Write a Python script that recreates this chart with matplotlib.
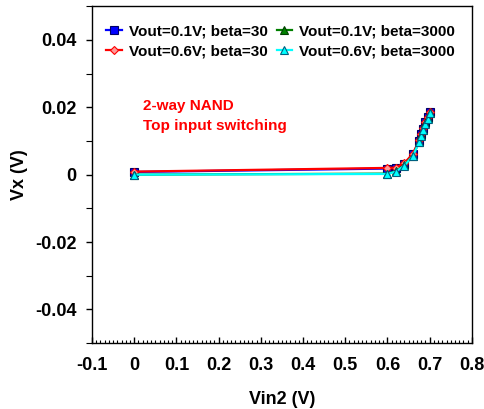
import matplotlib

matplotlib.use("Agg")
import matplotlib.pyplot as plt
from matplotlib.ticker import MultipleLocator

plt.rcParams["font.family"] = ["Liberation Sans", "DejaVu Sans"]
plt.rcParams["font.weight"] = "bold"

# Vin2 sweep points (V)
vin2 = [0.0, 0.6, 0.62, 0.64, 0.66, 0.675, 0.68, 0.685, 0.69, 0.695, 0.7]

# Vx (V) per case
vx_01_b30 = [0.0008, 0.0018, 0.0019, 0.0032, 0.0060, 0.0100, 0.0120, 0.0135, 0.0155, 0.0170, 0.0185]
vx_06_b30 = [0.0009, 0.0020, 0.0021, 0.0034, 0.0062, 0.0102, 0.0121, 0.0137, 0.0156, 0.0171, 0.0187]
vx_01_b3000 = [0.0000, 0.0003, 0.0010, 0.0028, 0.0056, 0.0097, 0.0117, 0.0132, 0.0152, 0.0167, 0.0183]
vx_06_b3000 = [0.0000, 0.0002, 0.0009, 0.0027, 0.0055, 0.0096, 0.0116, 0.0131, 0.0151, 0.0166, 0.0182]

SERIES = [
    (vx_01_b30, "Vout=0.1V; beta=30", "#0000ff", "s", "#000066"),
    (vx_06_b30, "Vout=0.6V; beta=30", "#ff0000", "D", "#ff0000"),
    (vx_01_b3000, "Vout=0.1V; beta=3000", "#008000", "^", "#004000"),
    (vx_06_b3000, "Vout=0.6V; beta=3000", "#00ffff", "^", "#006080"),
]

fig = plt.figure(figsize=(4.84, 4.09), dpi=100)
ax = fig.add_axes([0.190, 0.161, 0.785, 0.824])

for y, label, color, marker, edge in SERIES:
    face = "#ff9999" if marker == "D" else color
    ms = 4.5 if marker == "D" else 5.5
    ax.plot(vin2, y, color=color, lw=1.6, marker=marker, ms=ms,
            mfc=face, mec=edge, mew=0.8, label=label)

ax.set_xlim(-0.1, 0.8)
ax.set_ylim(-0.05, 0.05)
ax.xaxis.set_minor_locator(MultipleLocator(0.01))
ax.yaxis.set_minor_locator(MultipleLocator(0.01))
ax.set_xticks([-0.1, 0, 0.1, 0.2, 0.3, 0.4, 0.5, 0.6, 0.7, 0.8],
              ["-0.1", "0", "0.1", "0.2", "0.3", "0.4", "0.5", "0.6", "0.7", "0.8"])
ax.set_yticks([-0.04, -0.02, 0, 0.02, 0.04], ["-0.04", "-0.02", "0", "0.02", "0.04"])
ax.tick_params(axis="x", which="major", direction="in", length=4.5, width=1, labelsize=13, pad=10)
ax.tick_params(axis="x", which="minor", direction="in", length=2.2, width=0.8)
ax.tick_params(axis="y", which="major", direction="out", length=4, width=1, labelsize=13, pad=7)
ax.tick_params(axis="y", which="minor", direction="out", length=4, width=0.8)
for lab in ax.get_xticklabels() + ax.get_yticklabels():
    lab.set_fontweight("bold")
for s in ax.spines.values():
    s.set_linewidth(1.0)

ax.set_xlabel("Vin2 (V)", fontsize=13, fontweight="bold", labelpad=12)
ax.set_ylabel("Vx (V)", fontsize=13, fontweight="bold", labelpad=5)

ax.text(0.022, 0.0225, "2-way NAND\nTop input switching", color="red",
        fontsize=11, fontweight="bold", va="top", linespacing=1.6)

ax.legend(loc="upper left", bbox_to_anchor=(0.01, 0.978), ncol=2, frameon=False,
          handlelength=1.0, handletextpad=0.45, columnspacing=0.6,
          labelspacing=0.4, borderaxespad=0.3, prop={"weight": "bold", "size": 11})

fig.savefig("out.png", dpi=100)
